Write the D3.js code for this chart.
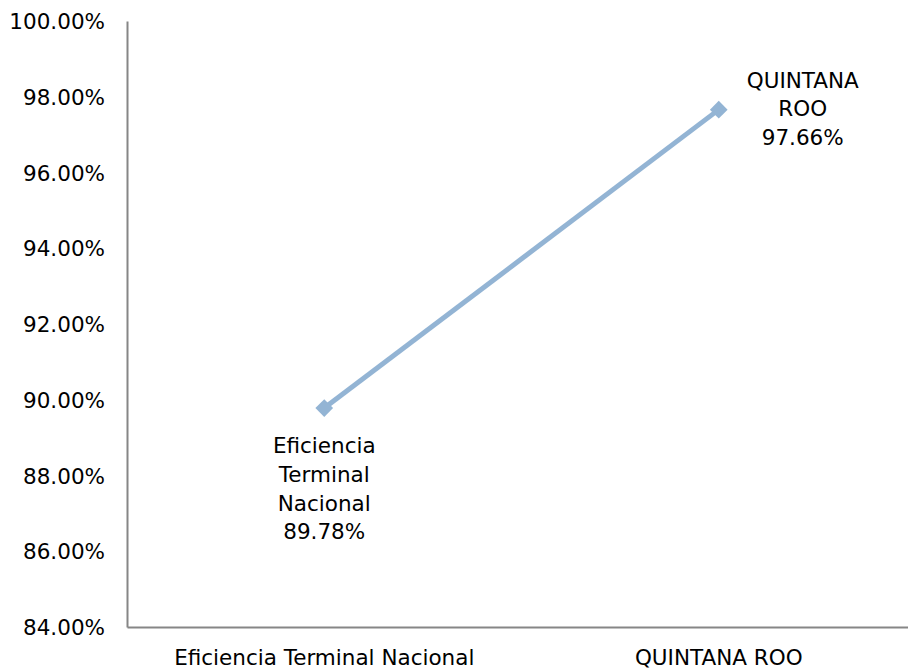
<!DOCTYPE html>
<html><head><meta charset="utf-8">
<script src="https://cdn.jsdelivr.net/npm/d3@7"></script>
<style>body{margin:0;background:#fff}svg{display:block}text{font-family:"Century Gothic","DejaVu Sans",sans-serif;fill:#000}</style>
</head><body>
<svg id="c" width="908" height="669"></svg>
<script>
const categories = ["Eficiencia Terminal Nacional", "QUINTANA ROO"];
const values = [89.78, 97.66];
const labelLines = [["Eficiencia","Terminal","Nacional","89.78%"],["QUINTANA","ROO","97.66%"]];
const yTicks = [84,86,88,90,92,94,96,98,100];

const svg = d3.select("#c");
const mLeft = 127, mRight = 916, mTop = 21, mBottom = 627;
const x = d3.scaleBand().domain(categories).range([mLeft, mRight]);
const y = d3.scaleLinear().domain([84,100]).range([mBottom, mTop]);
const fs = 21.5;

// axes
const ya = svg.append("g").attr("transform",`translate(${mLeft},0)`)
  .call(d3.axisLeft(y).tickValues(yTicks).tickSize(0).tickPadding(22).tickFormat(d=>d.toFixed(2)+"%"));
ya.select(".domain").attr("stroke","#868686").attr("stroke-width",2);
ya.selectAll("text").style("font-size",fs+"px").attr("dy","0.35em");
const xa = svg.append("g").attr("transform",`translate(0,${mBottom})`)
  .call(d3.axisBottom(x).tickSize(0).tickPadding(23));
xa.select(".domain").attr("stroke","#868686").attr("stroke-width",2);
xa.selectAll("text").style("font-size",fs+"px");

const cx = d => x(d) + x.bandwidth()/2;
const pts = categories.map((c,i)=>({c, v: values[i], lines: labelLines[i]}));

svg.append("path").datum(pts)
  .attr("d", d3.line().x(d=>cx(d.c)).y(d=>y(d.v)))
  .attr("fill","none").attr("stroke","#93b4d4").attr("stroke-width",5);

svg.selectAll(".m").data(pts).enter().append("path")
  .attr("d", d3.symbol(d3.symbolDiamond2 || d3.symbolDiamond, 200)())
  .attr("transform", d=>`translate(${cx(d.c)},${y(d.v)})`)
  .attr("fill","#93b4d4");

// data labels
const lbl = svg.selectAll(".l").data(pts).enter().append("text")
  .attr("text-anchor","middle").style("font-size",fs+"px")
  .attr("x",(d,i)=> i===0 ? cx(d.c) : cx(d.c)+84)
  .attr("y",(d,i)=> i===0 ? y(d.v)+39 : y(d.v)-28);
lbl.selectAll("tspan").data(d=>d.lines).enter().append("tspan")
  .attr("x", function(){return d3.select(this.parentNode).attr("x");})
  .attr("dy",(d,i)=> i===0 ? "0" : "28.8px")
  .attr("dominant-baseline","middle")
  .text(d=>d);
</script>
</body></html>
